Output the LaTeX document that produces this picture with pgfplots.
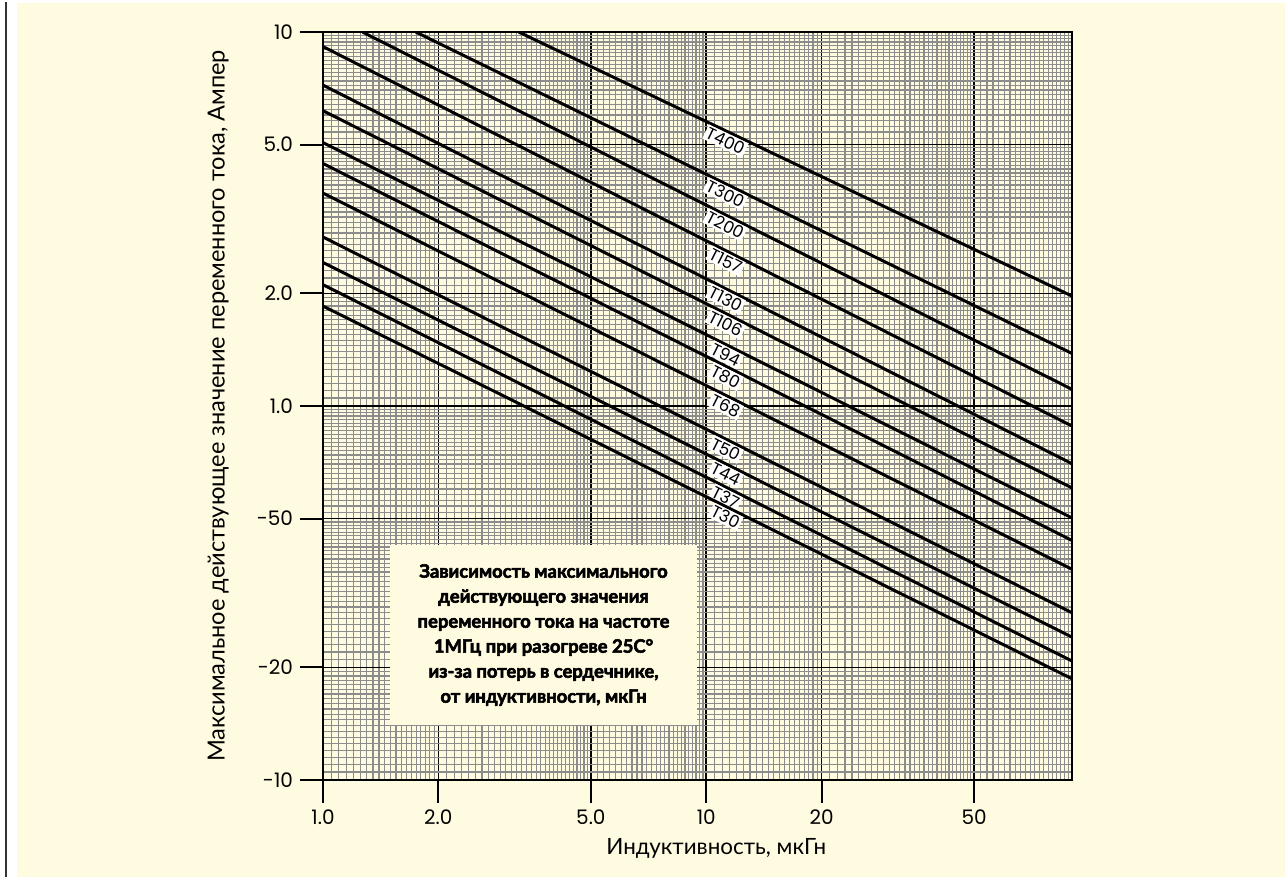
\documentclass[border=0pt]{standalone}
\usepackage{pgfplots}
\pgfplotsset{compat=1.18}
\usepackage{fontspec}
\setmainfont{Lato}
\newfontfamily\numfont{Poppins}
\newfontfamily\heavyfont[FakeBold=3]{Lato Bold}
\definecolor{cream}{RGB}{255,251,225}
\begin{document}
\begin{tikzpicture}
\useasboundingbox (-161.5pt,-48.5pt) rectangle (481pt,390pt);
\fill[white] (-161.5pt,-48.5pt) rectangle (481pt,390pt);
\fill[cream] (-153pt,-48.5pt) rectangle (481pt,388.5pt);
\fill[black!80] (-159.2pt,-48.5pt) rectangle (-157.8pt,389pt);
\begin{axis}[
  at={(0,0)}, anchor=south west,
  scale only axis, width=374.5pt, height=374pt,
  xmode=log, ymode=log,
  xmin=1, xmax=90, ymin=0.1, ymax=10,
  axis line style={black, line width=1pt},
  xtick={1,2,5,10,20,50},
  xticklabels={1.0,2.0,5.0,10,20,50},
  ytick={0.1,0.2,0.5,1,2,5,10},
  yticklabels={-10,-20,-50,1.0,2.0,5.0,10},
  minor xtick={1,1.05,...,2,2.1,2.2,...,5,5.2,5.4,...,10,10.5,11,...,20,21,22,...,50,52,54,...,90},
  minor ytick={0.1,0.105,...,0.2,0.21,0.22,...,0.5,0.52,0.54,...,1,1.05,1.1,...,2,2.1,2.2,...,5,5.2,5.4,...,10},
  xtick pos=bottom, ytick pos=left,
  tick align=outside,
  major tick length=11.5pt, minor tick length=0pt,
  tick style={black, line width=1pt},
  grid=both,
  major grid style={black, line width=0.8pt},
  minor grid style={black!45, line width=0.6pt},
  ticklabel style={font=\numfont\fontsize{10}{12}\selectfont, text=black},
  xlabel={Индуктивность, мкГн},
  ylabel={Максимальное действующее значение переменного тока, Ампер},
  xlabel style={at={(axis description cs:0.525,-0.091)}, anchor=center, font=\fontsize{11.2}{14}\selectfont},
  ylabel style={at={(axis description cs:-0.14,0.5)}, anchor=center, font=\fontsize{11.8}{14}\selectfont},
]
\tikzset{lbl/.style={sloped, anchor=north, fill=white, inner sep=0.8pt, font=\numfont\fontsize{8.4}{9}\selectfont}}
\addplot[black, line width=1.5pt] coordinates {(3.24,10) (90,1.968)} node[lbl, pos=0.381] {T400};
\addplot[black, line width=1.5pt] coordinates {(1.746,10) (90,1.382)} node[lbl, pos=0.478] {T300};
\addplot[black, line width=1.5pt] coordinates {(1.267,10) (90,1.108)} node[lbl, pos=0.517] {T200};
\addplot[black, line width=1.5pt] coordinates {(1,9.14) (90,0.884)} node[lbl, pos=0.543] {T157};
\addplot[black, line width=1.5pt] coordinates {(1,7.21) (90,0.701)} node[lbl, pos=0.543] {T130};
\addplot[black, line width=1.5pt] coordinates {(1,6.16) (90,0.604)} node[lbl, pos=0.543] {T106};
\addplot[black, line width=1.5pt] coordinates {(1,5.06) (90,0.502)} node[lbl, pos=0.543] {T94};
\addplot[black, line width=1.5pt] coordinates {(1,4.45) (90,0.437)} node[lbl, pos=0.543] {T80};
\addplot[black, line width=1.5pt] coordinates {(1,3.71) (90,0.366)} node[lbl, pos=0.543] {T68};
\addplot[black, line width=1.5pt] coordinates {(1,2.83) (90,0.280)} node[lbl, pos=0.543] {T50};
\addplot[black, line width=1.5pt] coordinates {(1,2.42) (90,0.241)} node[lbl, pos=0.543] {T44};
\addplot[black, line width=1.5pt] coordinates {(1,2.11) (90,0.208)} node[lbl, pos=0.543] {T37};
\addplot[black, line width=1.5pt] coordinates {(1,1.85) (90,0.1865)} node[lbl, pos=0.543] {T30};
\node[fill=cream, minimum width=153.5pt, minimum height=90pt, align=center,
      font=\heavyfont\fontsize{9.2}{12.5}\selectfont, text=black]
  at (rel axis cs:0.2944,0.1938)
  {Зависимость максимального\\действующего значения\\переменного тока на частоте\\1МГц при разогреве 25С°\\из-за потерь в сердечнике,\\от индуктивности, мкГн};
\end{axis}
\end{tikzpicture}
\end{document}
